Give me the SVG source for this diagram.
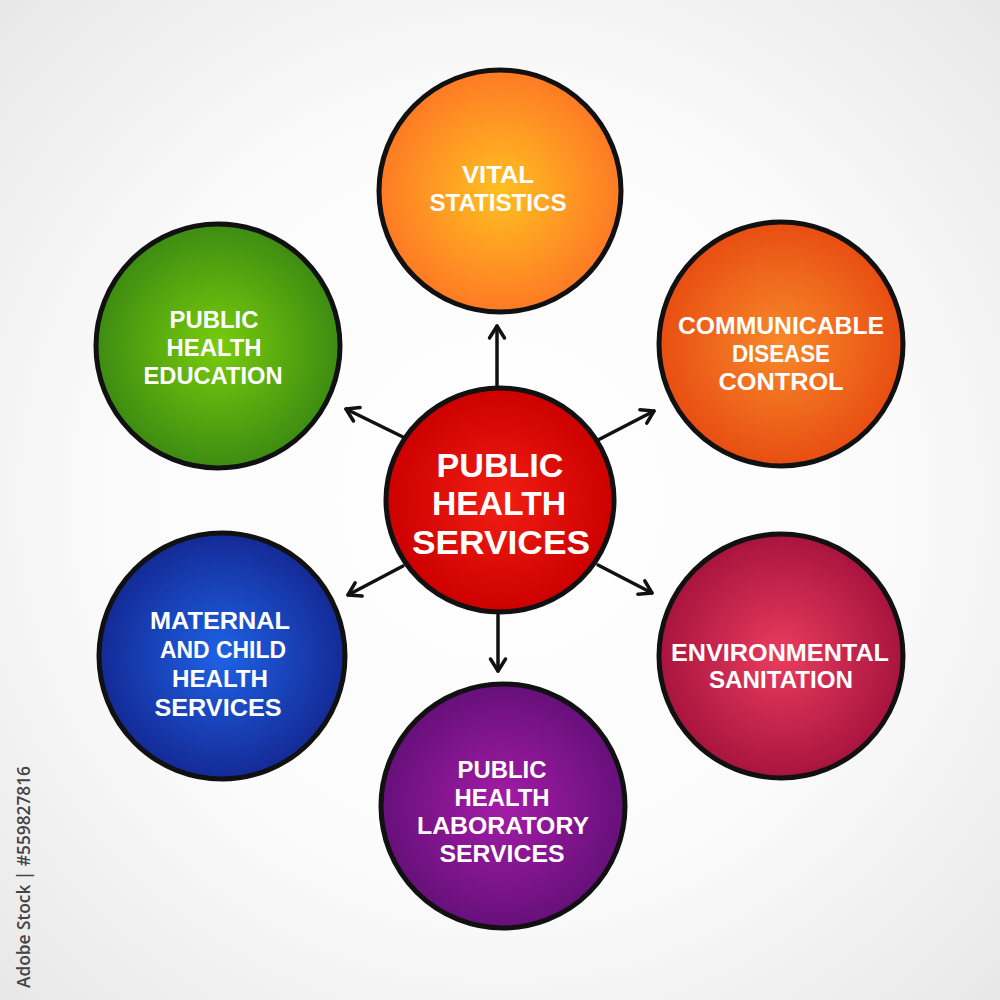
<svg xmlns="http://www.w3.org/2000/svg" width="1000" height="1000" viewBox="0 0 1000 1000">
<defs>
<radialGradient id="bg" cx="50%" cy="50%" r="70%"><stop offset="0" stop-color="#ffffff"/><stop offset="0.55" stop-color="#fbfbfb"/><stop offset="1" stop-color="#e8e8e8"/></radialGradient>
<radialGradient id="gOrange" cx="50%" cy="50%" r="50%"><stop offset="0" stop-color="#ffbf22"/><stop offset="1" stop-color="#fe7a24"/></radialGradient>
<radialGradient id="gRedOr" cx="50%" cy="50%" r="50%"><stop offset="0" stop-color="#f8892a"/><stop offset="1" stop-color="#e84e12"/></radialGradient>
<radialGradient id="gCrimson" cx="50%" cy="50%" r="50%"><stop offset="0" stop-color="#ea3c5e"/><stop offset="1" stop-color="#a8143e"/></radialGradient>
<radialGradient id="gPurple" cx="50%" cy="50%" r="50%"><stop offset="0" stop-color="#a51ca8"/><stop offset="1" stop-color="#66107a"/></radialGradient>
<radialGradient id="gBlue" cx="50%" cy="50%" r="50%"><stop offset="0" stop-color="#1e62e6"/><stop offset="1" stop-color="#142a96"/></radialGradient>
<radialGradient id="gGreen" cx="50%" cy="50%" r="50%"><stop offset="0" stop-color="#78cc0c"/><stop offset="1" stop-color="#3e8c12"/></radialGradient>
<radialGradient id="gRed" cx="50%" cy="50%" r="50%"><stop offset="0" stop-color="#f21e12"/><stop offset="1" stop-color="#cc0000"/></radialGradient>
<marker id="arr" viewBox="0 0 20 20" refX="17" refY="10" markerWidth="20" markerHeight="20" markerUnits="userSpaceOnUse" orient="auto"><path d="M5,2.5 L17,10 L5,17.5" fill="none" stroke="#111" stroke-width="3.5" stroke-linecap="round" stroke-linejoin="round"/></marker>
<style>
.c{stroke:#111;stroke-width:5}
.t{font-family:"Liberation Sans",Arial,sans-serif;font-weight:700;fill:#fff;text-anchor:middle;font-size:24px}
.tb{font-size:34px}
.ln{stroke:#111;stroke-width:3.5;fill:none;stroke-linecap:round}
</style>
</defs>
<rect width="1000" height="1000" fill="url(#bg)"/>
<text transform="translate(30,988) rotate(-90)" font-family="Open Sans, Liberation Sans, sans-serif" font-weight="600" font-size="18" fill="#444" textLength="222" lengthAdjust="spacingAndGlyphs">Adobe Stock | #559827816</text>
<g id="connectors">
<line class="ln" x1="497" y1="386" x2="497" y2="326" marker-end="url(#arr)"/>
<line class="ln" x1="598" y1="440" x2="654" y2="411" marker-end="url(#arr)"/>
<line class="ln" x1="598" y1="565" x2="652" y2="593" marker-end="url(#arr)"/>
<line class="ln" x1="498" y1="615" x2="498" y2="671" marker-end="url(#arr)"/>
<line class="ln" x1="403" y1="566" x2="348" y2="595" marker-end="url(#arr)"/>
<line class="ln" x1="403" y1="437" x2="346" y2="409" marker-end="url(#arr)"/>
</g>
<g id="center">
<ellipse class="c" cx="500" cy="500" rx="114" ry="112" fill="url(#gRed)"/>
<text class="t tb" x="500" y="477" textLength="127" lengthAdjust="spacingAndGlyphs">PUBLIC</text>
<text class="t tb" x="499" y="515" textLength="134" lengthAdjust="spacingAndGlyphs">HEALTH</text>
<text class="t tb" x="501" y="554" textLength="178" lengthAdjust="spacingAndGlyphs">SERVICES</text>
</g>
<g id="vital">
<circle class="c" cx="500" cy="191" r="121" fill="url(#gOrange)"/>
<text class="t" x="498" y="183" textLength="72" lengthAdjust="spacingAndGlyphs">VITAL</text>
<text class="t" x="498" y="211" textLength="137" lengthAdjust="spacingAndGlyphs">STATISTICS</text>
</g>
<g id="communicable">
<circle class="c" cx="781" cy="344" r="122" fill="url(#gRedOr)"/>
<text class="t" x="781" y="334" textLength="206" lengthAdjust="spacingAndGlyphs">COMMUNICABLE</text>
<text class="t" x="781" y="362" textLength="98" lengthAdjust="spacingAndGlyphs">DISEASE</text>
<text class="t" x="781" y="390" textLength="125" lengthAdjust="spacingAndGlyphs">CONTROL</text>
</g>
<g id="environmental">
<circle class="c" cx="781" cy="656" r="122" fill="url(#gCrimson)"/>
<text class="t" x="780" y="661" textLength="218" lengthAdjust="spacingAndGlyphs">ENVIRONMENTAL</text>
<text class="t" x="781" y="688" textLength="144" lengthAdjust="spacingAndGlyphs">SANITATION</text>
</g>
<g id="laboratory">
<circle class="c" cx="503" cy="806" r="122" fill="url(#gPurple)"/>
<text class="t" x="502" y="778" textLength="89" lengthAdjust="spacingAndGlyphs">PUBLIC</text>
<text class="t" x="502" y="806" textLength="95" lengthAdjust="spacingAndGlyphs">HEALTH</text>
<text class="t" x="503" y="834" textLength="172" lengthAdjust="spacingAndGlyphs">LABORATORY</text>
<text class="t" x="502" y="862" textLength="125" lengthAdjust="spacingAndGlyphs">SERVICES</text>
</g>
<g id="maternal">
<circle class="c" cx="222" cy="656" r="123" fill="url(#gBlue)"/>
<text class="t" x="220" y="629" textLength="140" lengthAdjust="spacingAndGlyphs">MATERNAL</text>
<text class="t" x="223" y="658" textLength="126" lengthAdjust="spacingAndGlyphs">AND CHILD</text>
<text class="t" x="220" y="687" textLength="96" lengthAdjust="spacingAndGlyphs">HEALTH</text>
<text class="t" x="218" y="716" textLength="127" lengthAdjust="spacingAndGlyphs">SERVICES</text>
</g>
<g id="education">
<circle class="c" cx="218" cy="346" r="122" fill="url(#gGreen)"/>
<text class="t" x="214" y="328" textLength="89" lengthAdjust="spacingAndGlyphs">PUBLIC</text>
<text class="t" x="214" y="356" textLength="95" lengthAdjust="spacingAndGlyphs">HEALTH</text>
<text class="t" x="213" y="384" textLength="139" lengthAdjust="spacingAndGlyphs">EDUCATION</text>
</g>
</svg>
